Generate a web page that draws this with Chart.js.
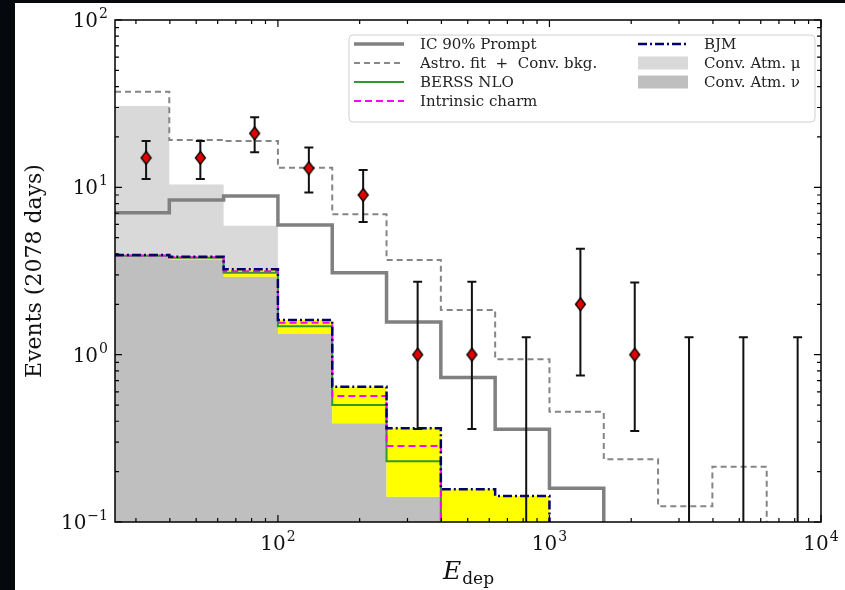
<!DOCTYPE html>
<html lang="en">
<head>
<meta charset="UTF-8">
<title>Events vs deposited energy</title>
<script src="https://cdn.jsdelivr.net/npm/chart.js"></script>
<style>
  html, body { margin: 0; padding: 0; background: #05080c; }
  #wrap { position: relative; width: 845px; height: 590px; overflow: hidden; }
  #paper { position: absolute; left: 15px; top: 3px; right: 0; bottom: 0; background: #fff; }
  #chart { position: absolute; left: 0; top: 0; }
</style>
</head>
<body>
<div id="wrap">
  <div id="paper"></div>
  <canvas id="chart" width="845" height="590"></canvas>
</div>
<script>
  // Bin edges in deposited energy (GeV), 13 log bins
  const binEdges = [25.12, 39.81, 63.10, 100, 158.5, 251.2, 398.1, 631.0, 1000, 1585, 2512, 3981, 6310, 10000];

  // Expected events per bin (values under 0.1 sit below the plot floor)
  const astroFit  = [37.3, 19.2, 18.9, 13.1, 6.9, 3.68, 1.85, 0.94, 0.456, 0.237, 0.124, 0.214, 0.05];
  const icPrompt  = [7.05, 8.4, 8.87, 5.96, 3.09, 1.57, 0.73, 0.358, 0.159, 0.05, 0.05, 0.05, 0.05];
  const convMu    = [30.6, 10.4, 5.9, 0.05, 0.05, 0.05, 0.05, 0.05, 0.05, 0.05, 0.05, 0.05, 0.05];
  const convNu    = [3.88, 3.71, 2.92, 1.33, 0.389, 0.1416, 0.05, 0.05, 0.05, 0.05, 0.05, 0.05, 0.05];
  const bjm       = [3.94, 3.85, 3.24, 1.61, 0.643, 0.363, 0.157, 0.143, 0.05, 0.05, 0.05, 0.05, 0.05];
  const berssNlo  = [3.90, 3.79, 3.09, 1.48, 0.50, 0.231, 0.05, 0.05, 0.05, 0.05, 0.05, 0.05, 0.05];
  const intrCharm = [3.92, 3.82, 3.15, 1.55, 0.566, 0.285, 0.05, 0.05, 0.05, 0.05, 0.05, 0.05, 0.05];

  // Observed events with their intervals
  const eventEnergy = [32.7, 51.8, 82.1, 130.0, 206.0, 327.0, 518.0, 821.0, 1300, 2061, 3266, 5177, 8204];
  const eventCounts = [15, 15, 21, 13, 9, 1, 1, 0, 2, 1, 0, 0, 0];
  const eventLow    = [11.2, 11.2, 16.2, 9.3, 6.2, 0.36, 0.36, 0, 0.75, 0.35, 0, 0, 0];
  const eventHigh   = [18.9, 18.9, 26.2, 17.3, 12.7, 2.73, 2.73, 1.27, 4.3, 2.7, 1.27, 1.27, 1.27];

  // Axis ticks
  const xMajorTicks = [100, 1000, 10000];
  const xTickExp    = ['2', '3', '4'];
  const yMajorTicks = [0.1, 1, 10, 100];
  const yTickExp    = ['\u22121', '0', '1', '2'];

  const SERIF = '"DejaVu Serif", "Liberation Serif", serif';

  function stepData(values) {
    return binEdges.map((e, i) => ({ x: e, y: values[Math.min(i, values.length - 1)] }));
  }

  function makeDiamond(w, h) {
    const c = document.createElement('canvas');
    c.width = w + 3; c.height = h + 3;
    const g = c.getContext('2d');
    const cx = c.width / 2, cy = c.height / 2;
    g.beginPath();
    g.moveTo(cx, 1.5); g.lineTo(c.width - 1.5, cy);
    g.lineTo(cx, c.height - 1.5); g.lineTo(1.5, cy);
    g.closePath();
    g.fillStyle = '#e00000'; g.fill();
    g.lineWidth = 1.3; g.strokeStyle = '#000'; g.stroke();
    return c;
  }

  const lineBase = { pointRadius: 0, stepped: 'before', fill: false, tension: 0 };

  // Error bars go under the diamonds
  const errorBars = {
    id: 'errorBars',
    beforeDatasetDraw(chart, args) {
      if (args.index !== 0) return;
      const { ctx, chartArea } = chart;
      const xs = chart.scales.x, ys = chart.scales.y;
      ctx.save();
      ctx.beginPath();
      ctx.rect(chartArea.left, chartArea.top, chartArea.right - chartArea.left, chartArea.bottom - chartArea.top);
      ctx.clip();
      ctx.strokeStyle = '#111';
      ctx.lineWidth = 2;
      eventEnergy.forEach((e, i) => {
        const px = xs.getPixelForValue(e);
        const top = ys.getPixelForValue(eventHigh[i]);
        const bot = eventLow[i] > 0 ? ys.getPixelForValue(eventLow[i]) : chartArea.bottom + 5;
        ctx.beginPath();
        ctx.moveTo(px, top); ctx.lineTo(px, bot);
        ctx.moveTo(px - 4.5, top); ctx.lineTo(px + 4.5, top);
        if (eventLow[i] > 0) { ctx.moveTo(px - 4.5, bot); ctx.lineTo(px + 4.5, bot); }
        ctx.stroke();
      });
      ctx.restore();
    }
  };

  function drawPower(ctx, exp, x, y, align) {
    const baseFont = '20px ' + SERIF, supFont = '14px ' + SERIF;
    ctx.font = baseFont; const bw = ctx.measureText('10').width;
    ctx.font = supFont; const sw = ctx.measureText(exp).width;
    const total = bw + sw + 1;
    const left = align === 'center' ? x - total / 2 : x - total;
    ctx.textAlign = 'left'; ctx.textBaseline = 'alphabetic';
    ctx.font = baseFont; ctx.fillText('10', left, y);
    ctx.font = supFont; ctx.fillText(exp, left + bw + 1, y - 9);
  }

  // Frame, inward ticks on all sides, tick labels, axis titles and legend
  const decorations = {
    id: 'decorations',
    afterDraw(chart) {
      const { ctx, chartArea: a } = chart;
      const xs = chart.scales.x, ys = chart.scales.y;
      ctx.save();
      ctx.strokeStyle = '#000';
      ctx.fillStyle = '#111';

      ctx.lineWidth = 1.2;
      ctx.beginPath();
      const xMinor = [], yMinor = [];
      [10, 100, 1000].forEach(d => { for (let k = 2; k <= 9; k++) { const v = k * d; if (v > xs.min && v < xs.max) xMinor.push(v); } });
      [0.1, 1, 10].forEach(d => { for (let k = 2; k <= 9; k++) yMinor.push(k * d); });
      xMajorTicks.forEach(v => { const p = xs.getPixelForValue(v); ctx.moveTo(p, a.bottom); ctx.lineTo(p, a.bottom - 7); ctx.moveTo(p, a.top); ctx.lineTo(p, a.top + 7); });
      xMinor.forEach(v => { const p = xs.getPixelForValue(v); ctx.moveTo(p, a.bottom); ctx.lineTo(p, a.bottom - 4); ctx.moveTo(p, a.top); ctx.lineTo(p, a.top + 4); });
      yMajorTicks.forEach(v => { const p = ys.getPixelForValue(v); ctx.moveTo(a.left, p); ctx.lineTo(a.left + 7, p); ctx.moveTo(a.right, p); ctx.lineTo(a.right - 7, p); });
      yMinor.forEach(v => { const p = ys.getPixelForValue(v); ctx.moveTo(a.left, p); ctx.lineTo(a.left + 4, p); ctx.moveTo(a.right, p); ctx.lineTo(a.right - 4, p); });
      ctx.stroke();

      ctx.lineWidth = 1.5;
      ctx.strokeRect(a.left, a.top, a.right - a.left, a.bottom - a.top);

      xMajorTicks.forEach((v, i) => drawPower(ctx, xTickExp[i], xs.getPixelForValue(v), a.bottom + 28, 'center'));
      yMajorTicks.forEach((v, i) => drawPower(ctx, yTickExp[i], a.left - 7, ys.getPixelForValue(v) + 7, 'right'));

      // axis titles
      ctx.save();
      ctx.translate(41, (a.top + a.bottom) / 2);
      ctx.rotate(-Math.PI / 2);
      ctx.font = '22px ' + SERIF;
      ctx.textAlign = 'center'; ctx.textBaseline = 'alphabetic';
      ctx.fillText('Events (2078 days)', 0, 0);
      ctx.restore();

      ctx.font = 'italic 25px ' + SERIF;
      const ew = ctx.measureText('E').width;
      ctx.font = '17px ' + SERIF;
      const dw = ctx.measureText('dep').width;
      const xl = (a.left + a.right) / 2 - (ew + dw) / 2;
      ctx.textAlign = 'left'; ctx.textBaseline = 'alphabetic';
      ctx.font = 'italic 25px ' + SERIF; ctx.fillText('E', xl, 579);
      ctx.font = '17px ' + SERIF; ctx.fillText('dep', xl + ew + 1, 584);

      // legend
      const bx = 349, by = 35, bw = 466, bh = 87;
      ctx.beginPath();
      ctx.roundRect(bx, by, bw, bh, 4);
      ctx.fillStyle = 'rgba(255,255,255,0.85)';
      ctx.fill();
      ctx.strokeStyle = '#d0d0d0'; ctx.lineWidth = 1;
      ctx.stroke();

      const rows = [44, 63, 82, 101];
      const entries = [
        { col: 0, row: 0, text: 'IC 90% Prompt', kind: 'line', color: '#808080', width: 3.5, dash: [] },
        { col: 0, row: 1, text: 'Astro. fit  +  Conv. bkg.', kind: 'line', color: '#888888', width: 2, dash: [6, 4] },
        { col: 0, row: 2, text: 'BERSS NLO', kind: 'line', color: '#2e9a2e', width: 2, dash: [] },
        { col: 0, row: 3, text: 'Intrinsic charm', kind: 'line', color: '#ff00ff', width: 2, dash: [7, 4] },
        { col: 1, row: 0, text: 'BJM', kind: 'line', color: '#00006e', width: 2.5, dash: [9, 3, 2, 3] },
        { col: 1, row: 1, text: 'Conv. Atm. \u03bc', kind: 'patch', color: '#d9d9d9' },
        { col: 1, row: 2, text: 'Conv. Atm. \u03bd', kind: 'patch', color: '#bfbfbf' }
      ];
      const handleX = [354, 638];
      entries.forEach(en => {
        const hx = handleX[en.col], y = rows[en.row];
        if (en.kind === 'line') {
          ctx.beginPath();
          ctx.setLineDash(en.dash);
          ctx.strokeStyle = en.color; ctx.lineWidth = en.width;
          ctx.moveTo(hx, y); ctx.lineTo(hx + 50, y);
          ctx.stroke();
          ctx.setLineDash([]);
        } else {
          ctx.fillStyle = en.color;
          ctx.fillRect(hx, y - 6.5, 50, 13);
        }
        ctx.fillStyle = '#222';
        ctx.font = '15px ' + SERIF;
        ctx.textAlign = 'left'; ctx.textBaseline = 'middle';
        ctx.fillText(en.text, hx + 66, y + 1);
      });
      ctx.restore();
    }
  };

  const ctx = document.getElementById('chart').getContext('2d');
  new Chart(ctx, {
    type: 'line',
    data: {
      datasets: [
        {
          label: 'Data',
          data: eventEnergy.map((e, i) => ({ x: e, y: eventCounts[i] > 0 ? eventCounts[i] : null })),
          showLine: false,
          pointStyle: makeDiamond(10, 13),
          pointRadius: 7
        },
        Object.assign({}, lineBase, { label: 'Astro. fit + Conv. bkg.', data: stepData(astroFit), borderColor: '#858585', borderWidth: 2, borderDash: [6, 4] }),
        Object.assign({}, lineBase, { label: 'IC 90% Prompt', data: stepData(icPrompt), borderColor: '#808080', borderWidth: 3.5 }),
        Object.assign({}, lineBase, { label: 'BJM', data: stepData(bjm), borderColor: '#00006e', borderWidth: 2.5, borderDash: [9, 3, 2, 3] }),
        Object.assign({}, lineBase, { label: 'Intrinsic charm', data: stepData(intrCharm), borderColor: '#ff00ff', borderWidth: 2, borderDash: [7, 4] }),
        Object.assign({}, lineBase, { label: 'BERSS NLO', data: stepData(berssNlo), borderColor: '#2e9a2e', borderWidth: 2 }),
        Object.assign({}, lineBase, { label: 'Prompt band', data: stepData(bjm), borderWidth: 0, borderColor: 'rgba(0,0,0,0)', backgroundColor: '#ffff00', fill: 7 }),
        Object.assign({}, lineBase, { label: 'Conv. Atm. \u03bd', data: stepData(convNu), borderWidth: 0, borderColor: 'rgba(0,0,0,0)', backgroundColor: '#bfbfbf', fill: 'start' }),
        Object.assign({}, lineBase, { label: 'Conv. Atm. \u03bc', data: stepData(convMu), borderWidth: 0, borderColor: 'rgba(0,0,0,0)', backgroundColor: '#d9d9d9', fill: 'start' })
      ]
    },
    options: {
      responsive: false,
      animation: false,
      layout: { padding: { left: 115, top: 20, right: 24, bottom: 68 } },
      scales: {
        x: { type: 'logarithmic', min: 25.12, max: 10000, display: false },
        y: { type: 'logarithmic', min: 0.1, max: 100, display: false }
      },
      plugins: {
        legend: { display: false },
        tooltip: { enabled: false },
        filler: { drawTime: 'beforeDatasetsDraw' }
      }
    },
    plugins: [errorBars, decorations]
  });
</script>
</body>
</html>
